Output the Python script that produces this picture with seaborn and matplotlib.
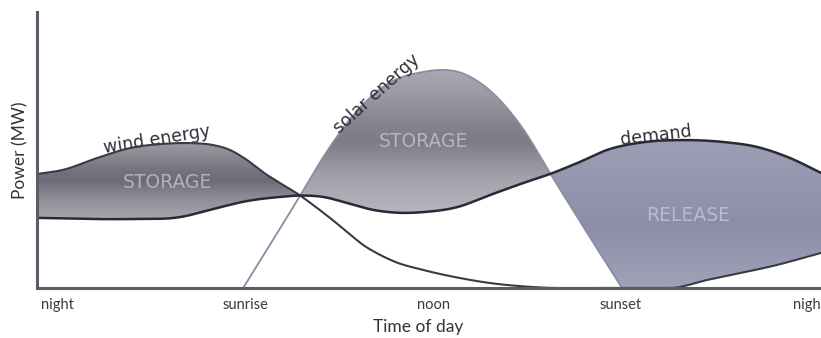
import numpy as np
import pandas as pd
import matplotlib
matplotlib.use("Agg")
import matplotlib.pyplot as plt
import seaborn as sns
from matplotlib.colors import LinearSegmentedColormap
from matplotlib.path import Path
from matplotlib.patches import PathPatch

# ---- data (hours of day, power in arbitrary units 0..100) ----
wind_t = [-0.64, 0.19, 1.28, 2.33, 3.38, 4.24, 4.98, 5.52, 6.06, 6.57, 7.12, 7.76, 8.17, 8.71,
          9.26, 9.77, 10.31, 10.85, 11.59, 12.77, 13.82, 14.87, 16.05, 19.56, 20.74, 21.8, 22.85, 24.38]
wind_p = [41.3, 42.8, 47.1, 50.7, 52.2, 52.5, 51.8, 50.0, 46.4, 42.0, 38.0, 33.5, 30.1, 25.4,
          20.3, 15.6, 12.0, 9.2, 6.8, 3.8, 1.8, 0.6, 0.0, 0.0, 2.9, 5.4, 8.0, 12.7]

demand_t = [-0.64, 2.33, 3.93, 4.98, 6.06, 7.12, 7.76, 8.49, 9.26, 10.09, 11.11, 11.68, 12.77,
            13.82, 14.87, 15.73, 16.69, 17.55, 18.77, 19.98, 21.26, 22.34, 23.39, 24.38]
demand_p = [25.4, 25.0, 25.7, 28.6, 31.5, 33.0, 33.5, 33.0, 30.8, 28.3, 27.2, 27.5, 29.3,
            33.7, 38.0, 41.3, 45.7, 50.0, 52.9, 53.6, 52.9, 51.1, 47.1, 41.7]

solar_t = [5.94, 7.76, 8.5, 9.6, 10.6, 11.7, 12.2, 12.8, 13.8, 14.9, 15.73, 16.7, 18.03]
solar_p = [0.0, 33.5, 47.5, 64.5, 74.3, 78.3, 79.0, 78.3, 71.7, 57.2, 41.7, 23.9, 0.0]

tick_pos = [0, 6, 12, 18, 24]
tick_lab = ["night", "sunrise", "noon", "sunset", "night"]


def smooth(x, y, xs):
    """Piecewise cubic Hermite with three-point tangents (drawing helper)."""
    x = np.asarray(x, float); y = np.asarray(y, float)
    h = np.diff(x); d = np.diff(y) / h
    n = len(x); m = np.zeros(n)
    m[0] = d[0]; m[-1] = d[-1]
    for k in range(1, n - 1):
        m[k] = (d[k - 1] * h[k] + d[k] * h[k - 1]) / (h[k - 1] + h[k])
        if y[k] == 0 and (y[k - 1] == 0 or y[k + 1] == 0):
            m[k] = 0.0
    idx = np.clip(np.searchsorted(x, xs) - 1, 0, n - 2)
    t = (xs - x[idx]) / h[idx]
    h00 = 2 * t**3 - 3 * t**2 + 1; h10 = t**3 - 2 * t**2 + t
    h01 = -2 * t**3 + 3 * t**2; h11 = t**3 - t**2
    return h00 * y[idx] + h10 * h[idx] * m[idx] + h01 * y[idx + 1] + h11 * h[idx] * m[idx + 1]


xs = np.linspace(-0.64, 24.38, 2500)
wind = np.maximum(smooth(wind_t, wind_p, xs), 0)
demand = smooth(demand_t, demand_p, xs)
solar_in = (xs >= solar_t[0]) & (xs <= solar_t[-1])
solar = np.where(solar_in, smooth(solar_t, solar_p, np.clip(xs, solar_t[0], solar_t[-1])), 0.0)
solar = np.maximum(solar, 0)

sns.set_theme(style="white")
plt.rcParams["font.family"] = ["Lato", "DejaVu Sans"]

fig = plt.figure(figsize=(8.21, 3.38), dpi=100)
ax = fig.add_axes([37 / 821, 50 / 338, 784 / 821, 276 / 338])


def grad_fill(top, bot, mask, stops, z=1):
    coll = ax.fill_between(xs, bot, top, where=mask, interpolate=True,
                           facecolor="none", edgecolor="none")
    path = Path.make_compound_path(*coll.get_paths())
    cmap = LinearSegmentedColormap.from_list("g", stops)
    ymin = bot[mask].min(); ymax = top[mask].max()
    img = ax.imshow(np.linspace(0, 1, 256).reshape(-1, 1), cmap=cmap, aspect="auto",
                    origin="lower", extent=[xs[mask].min() - 0.05, xs[mask].max() + 0.05, ymin, ymax],
                    zorder=z, interpolation="bilinear")
    patch = PathPatch(path, transform=ax.transData, facecolor="none", edgecolor="none")
    ax.add_patch(patch)
    img.set_clip_path(patch)


# wind storage
m1 = (xs <= 7.76) & (wind >= demand)
grad_fill(wind, demand, m1, [(0, "#a6a6ae"), (0.3, "#8a8a94"), (0.5, "#6c6c76"),
                              (0.62, "#73737d"), (0.8, "#86868f"), (1, "#9c9ca4")])
# solar storage
m2 = (xs >= 7.76) & (xs <= 15.73) & (solar >= demand)
grad_fill(solar, demand, m2, [(0, "#b6b6be"), (0.25, "#a2a2aa"), (0.5, "#7c7c86"),
                               (0.62, "#84848e"), (0.85, "#9c9ca4"), (1, "#a8a8b0")])
# release
low = np.maximum(solar, wind)
m3 = (xs >= 15.6) & (demand >= low)
grad_fill(demand, low, m3, [(0, "#a0a2b8"), (0.45, "#8c8ea8"), (0.6, "#9294ac"),
                             (1, "#9c9eb6")])

df = pd.DataFrame({"t": xs, "wind": wind, "demand": demand, "solar": solar})
sns.lineplot(data=df[solar_in], x="t", y="solar", ax=ax, color="#8a8ca4", lw=1.3, zorder=3)
sns.lineplot(data=df, x="t", y="wind", ax=ax, color="#3a3a44", lw=1.5, zorder=4)
sns.lineplot(data=df, x="t", y="demand", ax=ax, color="#2a2a34", lw=1.8, zorder=5)

ax.set_xlim(-0.638, 24.38)
ax.set_ylim(0, 100)
ax.set_xticks(tick_pos)
ax.set_xticklabels(tick_lab, fontsize=10.5, color="#3a3a3a")
ax.set_yticks([])
ax.tick_params(axis="x", length=0, pad=7)
ax.set_xlabel(""); ax.set_ylabel("")
for s in ["top", "right"]:
    ax.spines[s].set_visible(False)
for s in ["left", "bottom"]:
    ax.spines[s].set_color("#5c5c68")
    ax.spines[s].set_linewidth(2.2)
    ax.spines[s].set_zorder(6)

fig.text(418 / 821, 1 - 327 / 338, "Time of day", ha="center", va="center", fontsize=12.5, color="#333333")
fig.text(20 / 821, 1 - 150 / 338, "Power (MW)", ha="center", va="center", rotation=90,
         fontsize=12.5, color="#333333")

lab_kw = dict(ha="center", va="center", rotation_mode="anchor", color="#2e2e36",
              family=["DejaVu Sans"], fontsize=12.5)
ax.text(3.19, 53.8, "wind energy", rotation=9, **lab_kw)
ax.text(10.2, 70.3, "solar energy", rotation=42, **lab_kw)
ax.text(19.1, 55.3, "demand", rotation=7, **lab_kw)

in_kw = dict(ha="center", va="center", family=["DejaVu Sans"], fontsize=13.5, zorder=7)
ax.text(3.51, 38.4, "STORAGE", color="#b0b0c6", **in_kw)
ax.text(11.68, 52.9, "STORAGE", color="#b4b4c8", **in_kw)
ax.text(20.14, 26.4, "RELEASE", color="#b8bace", **in_kw)

fig.savefig("out.png", dpi=100)
